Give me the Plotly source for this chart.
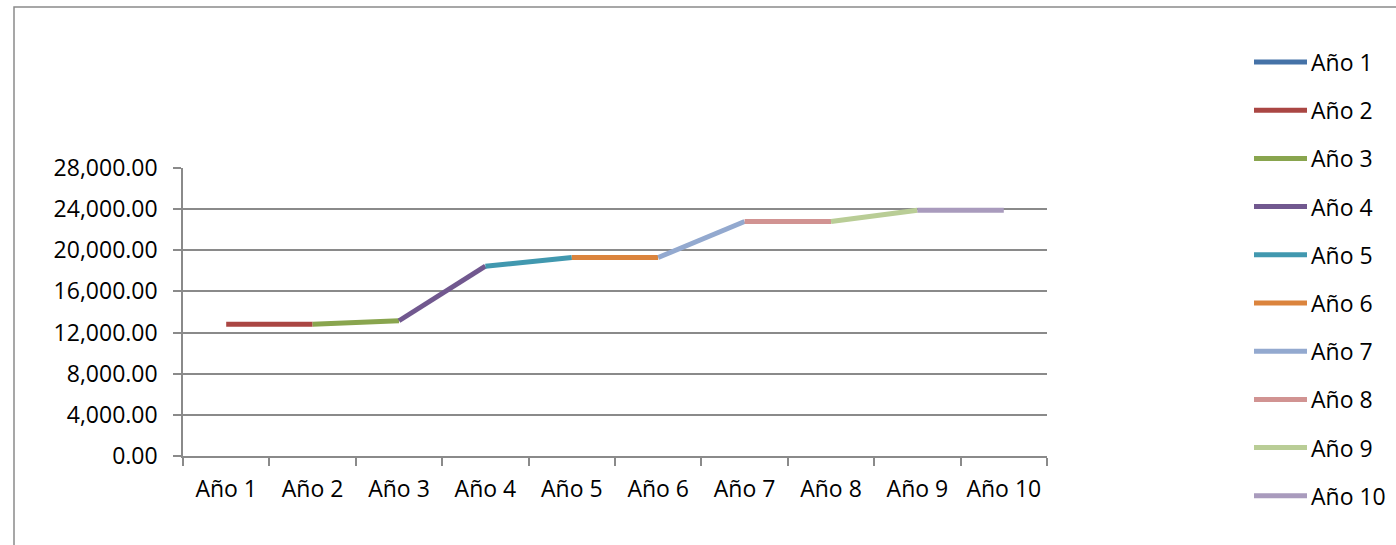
import plotly.graph_objects as go

# Categories on the x axis
categories = ["Año 1", "Año 2", "Año 3", "Año 4", "Año 5",
              "Año 6", "Año 7", "Año 8", "Año 9", "Año 10"]

# Cumulative amount reached at the end of each year
year_values = [12800, 12800, 13150, 18450, 19300,
               19300, 22800, 22800, 23900, 23900]

# One series per year; each series joins the previous year with its own
series_names = ["Año 1", "Año 2", "Año 3", "Año 4", "Año 5",
                "Año 6", "Año 7", "Año 8", "Año 9", "Año 10"]
series_colors = ["#4572A7", "#AA4643", "#89A54E", "#71588F", "#4198AF",
                 "#DB843D", "#93A9CF", "#D19392", "#B9CD96", "#A99BBD"]

y_ticks = [0, 4000, 8000, 12000, 16000, 20000, 24000, 28000]

FONT = "Open Sans, Liberation Sans, sans-serif"
GRID = "#8a8a8a"

W, H = 1396, 545
L, R, T, B = 183, 349, 168, 89
PW, PH = W - L - R, H - T - B


def px_to_paper_x(px):
    return (px - L) / PW


def px_to_paper_y(py):
    return (H - B - py) / PH


fig = go.Figure()

for i, (name, color) in enumerate(zip(series_names, series_colors)):
    start = max(i - 1, 0)
    fig.add_trace(go.Scatter(
        x=categories[start:i + 1],
        y=year_values[start:i + 1],
        mode="lines",
        name=name,
        line=dict(color=color, width=5),
        showlegend=False,
    ))

shapes = []
annotations = []

# Outer chart frame
shapes.append(dict(
    type="rect", xref="paper", yref="paper",
    x0=px_to_paper_x(14), x1=px_to_paper_x(1420),
    y0=px_to_paper_y(570), y1=px_to_paper_y(7),
    line=dict(color="#8a8a8a", width=1.5),
    fillcolor="rgba(0,0,0,0)", layer="below",
))

# Legend on the right
legend_top = 62
legend_step = 48.2
for i, (name, color) in enumerate(zip(series_names, series_colors)):
    yc = legend_top + i * legend_step
    shapes.append(dict(
        type="line", xref="paper", yref="paper",
        x0=px_to_paper_x(1254), x1=px_to_paper_x(1307),
        y0=px_to_paper_y(yc), y1=px_to_paper_y(yc),
        line=dict(color=color, width=5),
    ))
    annotations.append(dict(
        xref="paper", yref="paper",
        x=px_to_paper_x(1309), y=px_to_paper_y(yc),
        text=name, showarrow=False,
        xanchor="left", yanchor="middle",
        font=dict(family=FONT, size=23, color="#000000"),
    ))

fig.update_layout(
    width=W, height=H,
    margin=dict(l=L, r=R, t=T, b=B),
    paper_bgcolor="white",
    plot_bgcolor="white",
    font=dict(family=FONT, size=23, color="#000000"),
    showlegend=False,
    shapes=shapes,
    annotations=annotations,
    xaxis=dict(
        type="category",
        categoryorder="array", categoryarray=categories,
        range=[-0.5, len(categories) - 0.5],
        tickson="boundaries",
        ticks="outside", ticklen=8, tickwidth=1.5, tickcolor=GRID,
        showline=True, linecolor=GRID, linewidth=1.5,
        showgrid=False, zeroline=False,
        tickfont=dict(family=FONT, size=23, color="#000000"),
        ticklabelstandoff=12,
    ),
    yaxis=dict(
        range=[0, 28000],
        tickvals=y_ticks,
        tickformat=",.2f",
        ticks="outside", ticklen=8, tickwidth=1.5, tickcolor=GRID,
        showline=True, linecolor=GRID, linewidth=1.5,
        showgrid=True, gridcolor=GRID, gridwidth=1.5,
        zeroline=False,
        tickfont=dict(family=FONT, size=23, color="#000000"),
        ticklabelstandoff=11,
    ),
)

fig.write_html("out.html")
